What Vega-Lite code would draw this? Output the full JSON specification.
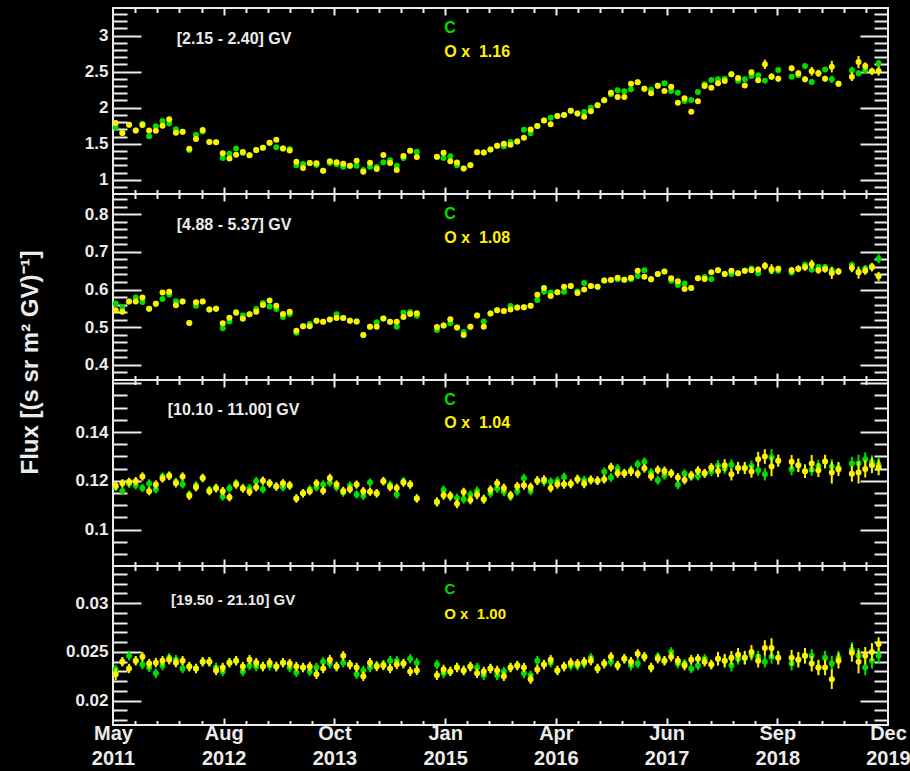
{
  "$schema": "https://vega.github.io/schema/vega-lite/v6.json",
  "background": "#000000",
  "padding": {"left": 17, "top": 6, "right": 22, "bottom": 4},
  "spacing": 0,
  "bounds": "flush",
  "config": {
    "view": {"stroke": "#ececec", "strokeWidth": 2},
    "axis": {"grid": false, "domain": false, "labelColor": "#ececec", "tickColor": "#ececec", "tickWidth": 2, "labelFont": "Liberation Sans", "labelFontWeight": "bold", "labelFontSize": 17, "titleColor": "#ececec", "titleFont": "Liberation Sans", "titleFontWeight": "bold", "labelOverlap": false, "labelFlush": false},
    "text": {"font": "Liberation Sans", "fontWeight": "bold"}
  },
  "datasets": {
    "flux": [
      {"p":1,"b":2426,"c":1.722,"o":1.787,"ce":0.015,"oe":0.015},
      {"p":1,"b":2427,"c":1.65,"o":1.648,"ce":0.015,"oe":0.015},
      {"p":1,"b":2428,"c":1.764,"o":1.764,"ce":0.015,"oe":0.015},
      {"p":1,"b":2429,"c":1.685,"o":1.685,"ce":0.015,"oe":0.015},
      {"p":1,"b":2430,"c":1.778,"o":1.759,"ce":0.015,"oe":0.015},
      {"p":1,"b":2431,"c":1.602,"o":1.685,"ce":0.015,"oe":0.015},
      {"p":1,"b":2432,"c":1.741,"o":1.681,"ce":0.015,"oe":0.015},
      {"p":1,"b":2433,"c":1.815,"o":1.75,"ce":0.015,"oe":0.015},
      {"p":1,"b":2434,"c":1.782,"o":1.838,"ce":0.015,"oe":0.015},
      {"p":1,"b":2435,"c":1.699,"o":1.653,"ce":0.015,"oe":0.015},
      {"p":1,"b":2436,"c":1.667,"o":1.667,"ce":0.015,"oe":0.015},
      {"p":1,"b":2437,"c":1.412,"o":1.431,"ce":0.015,"oe":0.015},
      {"p":1,"b":2438,"c":1.62,"o":1.565,"ce":0.015,"oe":0.015},
      {"p":1,"b":2439,"c":1.671,"o":1.69,"ce":0.015,"oe":0.015},
      {"p":1,"b":2440,"c":1.523,"o":1.523,"ce":0.015,"oe":0.015},
      {"p":1,"b":2441,"c":1.519,"o":1.519,"ce":0.015,"oe":0.015},
      {"p":1,"b":2442,"c":1.301,"o":1.366,"ce":0.015,"oe":0.015},
      {"p":1,"b":2443,"c":1.361,"o":1.296,"ce":0.015,"oe":0.015},
      {"p":1,"b":2444,"c":1.435,"o":1.347,"ce":0.015,"oe":0.015},
      {"p":1,"b":2445,"c":1.37,"o":1.384,"ce":0.015,"oe":0.015},
      {"p":1,"b":2446,"c":1.338,"o":1.338,"ce":0.015,"oe":0.015},
      {"p":1,"b":2447,"c":1.412,"o":1.412,"ce":0.015,"oe":0.015},
      {"p":1,"b":2448,"c":1.444,"o":1.444,"ce":0.015,"oe":0.015},
      {"p":1,"b":2449,"c":1.514,"o":1.514,"ce":0.015,"oe":0.015},
      {"p":1,"b":2450,"c":1.449,"o":1.556,"ce":0.015,"oe":0.015},
      {"p":1,"b":2451,"c":1.435,"o":1.435,"ce":0.015,"oe":0.015},
      {"p":1,"b":2452,"c":1.426,"o":1.407,"ce":0.015,"oe":0.015},
      {"p":1,"b":2453,"c":1.199,"o":1.25,"ce":0.015,"oe":0.015},
      {"p":1,"b":2454,"c":1.218,"o":1.162,"ce":0.015,"oe":0.015},
      {"p":1,"b":2455,"c":1.231,"o":1.231,"ce":0.015,"oe":0.015},
      {"p":1,"b":2456,"c":1.204,"o":1.227,"ce":0.015,"oe":0.015},
      {"p":1,"b":2457,"c":1.125,"o":1.125,"ce":0.015,"oe":0.015},
      {"p":1,"b":2458,"c":1.231,"o":1.255,"ce":0.015,"oe":0.015},
      {"p":1,"b":2459,"c":1.213,"o":1.241,"ce":0.015,"oe":0.015},
      {"p":1,"b":2460,"c":1.18,"o":1.222,"ce":0.015,"oe":0.015},
      {"p":1,"b":2461,"c":1.194,"o":1.194,"ce":0.015,"oe":0.015},
      {"p":1,"b":2462,"c":1.194,"o":1.264,"ce":0.015,"oe":0.015},
      {"p":1,"b":2463,"c":1.134,"o":1.111,"ce":0.015,"oe":0.015},
      {"p":1,"b":2464,"c":1.18,"o":1.236,"ce":0.015,"oe":0.015},
      {"p":1,"b":2465,"c":1.176,"o":1.148,"ce":0.015,"oe":0.015},
      {"p":1,"b":2466,"c":1.241,"o":1.343,"ce":0.015,"oe":0.015},
      {"p":1,"b":2467,"c":1.269,"o":1.231,"ce":0.015,"oe":0.015},
      {"p":1,"b":2468,"c":1.194,"o":1.134,"ce":0.015,"oe":0.015},
      {"p":1,"b":2469,"c":1.301,"o":1.329,"ce":0.015,"oe":0.015},
      {"p":1,"b":2470,"c":1.403,"o":1.403,"ce":0.015,"oe":0.015},
      {"p":1,"b":2471,"c":1.389,"o":1.315,"ce":0.015,"oe":0.015},
      {"p":1,"b":2474,"c":1.315,"o":1.319,"ce":0.015,"oe":0.015},
      {"p":1,"b":2475,"c":1.303,"o":1.375,"ce":0.015,"oe":0.015},
      {"p":1,"b":2476,"c":1.327,"o":1.255,"ce":0.015,"oe":0.015},
      {"p":1,"b":2477,"c":1.2,"o":1.24,"ce":0.015,"oe":0.015},
      {"p":1,"b":2478,"c":1.157,"o":1.157,"ce":0.015,"oe":0.015},
      {"p":1,"b":2479,"c":1.204,"o":1.2,"ce":0.015,"oe":0.015},
      {"p":1,"b":2480,"c":1.38,"o":1.38,"ce":0.015,"oe":0.015},
      {"p":1,"b":2481,"c":1.378,"o":1.378,"ce":0.015,"oe":0.015},
      {"p":1,"b":2482,"c":1.419,"o":1.419,"ce":0.015,"oe":0.015},
      {"p":1,"b":2483,"c":1.47,"o":1.47,"ce":0.015,"oe":0.015},
      {"p":1,"b":2484,"c":1.465,"o":1.498,"ce":0.015,"oe":0.015},
      {"p":1,"b":2485,"c":1.523,"o":1.486,"ce":0.015,"oe":0.015},
      {"p":1,"b":2486,"c":1.532,"o":1.532,"ce":0.015,"oe":0.015},
      {"p":1,"b":2487,"c":1.695,"o":1.584,"ce":0.015,"oe":0.015},
      {"p":1,"b":2488,"c":1.644,"o":1.697,"ce":0.015,"oe":0.015},
      {"p":1,"b":2489,"c":1.746,"o":1.746,"ce":0.015,"oe":0.015},
      {"p":1,"b":2490,"c":1.822,"o":1.822,"ce":0.015,"oe":0.015},
      {"p":1,"b":2491,"c":1.861,"o":1.77,"ce":0.015,"oe":0.015},
      {"p":1,"b":2492,"c":1.884,"o":1.884,"ce":0.015,"oe":0.015},
      {"p":1,"b":2493,"c":1.898,"o":1.898,"ce":0.015,"oe":0.015},
      {"p":1,"b":2494,"c":1.956,"o":1.956,"ce":0.015,"oe":0.015},
      {"p":1,"b":2495,"c":1.921,"o":1.921,"ce":0.015,"oe":0.015},
      {"p":1,"b":2496,"c":1.94,"o":1.875,"ce":0.015,"oe":0.015},
      {"p":1,"b":2497,"c":2.0,"o":1.949,"ce":0.015,"oe":0.015},
      {"p":1,"b":2498,"c":2.033,"o":2.033,"ce":0.015,"oe":0.015},
      {"p":1,"b":2499,"c":2.102,"o":2.102,"ce":0.015,"oe":0.015},
      {"p":1,"b":2500,"c":2.186,"o":2.209,"ce":0.015,"oe":0.015},
      {"p":1,"b":2501,"c":2.241,"o":2.148,"ce":0.015,"oe":0.015},
      {"p":1,"b":2502,"c":2.227,"o":2.148,"ce":0.015,"oe":0.015},
      {"p":1,"b":2503,"c":2.255,"o":2.334,"ce":0.015,"oe":0.015},
      {"p":1,"b":2504,"c":2.352,"o":2.352,"ce":0.015,"oe":0.015},
      {"p":1,"b":2505,"c":2.264,"o":2.264,"ce":0.015,"oe":0.015},
      {"p":1,"b":2506,"c":2.25,"o":2.2,"ce":0.015,"oe":0.015},
      {"p":1,"b":2507,"c":2.306,"o":2.306,"ce":0.015,"oe":0.015},
      {"p":1,"b":2508,"c":2.338,"o":2.232,"ce":0.015,"oe":0.015},
      {"p":1,"b":2509,"c":2.232,"o":2.292,"ce":0.015,"oe":0.015},
      {"p":1,"b":2510,"c":2.209,"o":2.07,"ce":0.015,"oe":0.015},
      {"p":1,"b":2511,"c":2.093,"o":2.13,"ce":0.015,"oe":0.015},
      {"p":1,"b":2512,"c":2.107,"o":1.945,"ce":0.015,"oe":0.015},
      {"p":1,"b":2513,"c":2.218,"o":2.088,"ce":0.015,"oe":0.015},
      {"p":1,"b":2514,"c":2.325,"o":2.301,"ce":0.015,"oe":0.015},
      {"p":1,"b":2515,"c":2.385,"o":2.278,"ce":0.015,"oe":0.015},
      {"p":1,"b":2516,"c":2.394,"o":2.338,"ce":0.025,"oe":0.03},
      {"p":1,"b":2517,"c":2.403,"o":2.371,"ce":0.025,"oe":0.03},
      {"p":1,"b":2518,"c":2.464,"o":2.464,"ce":0.025,"oe":0.03},
      {"p":1,"b":2519,"c":2.375,"o":2.412,"ce":0.025,"oe":0.03},
      {"p":1,"b":2520,"c":2.394,"o":2.31,"ce":0.025,"oe":0.03},
      {"p":1,"b":2521,"c":2.44,"o":2.491,"ce":0.025,"oe":0.03},
      {"p":1,"b":2522,"c":2.45,"o":2.38,"ce":0.025,"oe":0.03},
      {"p":1,"b":2523,"c":2.375,"o":2.602,"ce":0.025,"oe":0.065},
      {"p":1,"b":2524,"c":2.436,"o":2.431,"ce":0.025,"oe":0.04},
      {"p":1,"b":2525,"c":2.523,"o":2.403,"ce":0.025,"oe":0.04},
      {"p":1,"b":2527,"c":2.431,"o":2.547,"ce":0.03,"oe":0.04},
      {"p":1,"b":2528,"c":2.45,"o":2.477,"ce":0.03,"oe":0.04},
      {"p":1,"b":2529,"c":2.579,"o":2.394,"ce":0.03,"oe":0.04},
      {"p":1,"b":2530,"c":2.357,"o":2.505,"ce":0.04,"oe":0.06},
      {"p":1,"b":2531,"c":2.477,"o":2.477,"ce":0.03,"oe":0.05},
      {"p":1,"b":2532,"c":2.532,"o":2.403,"ce":0.03,"oe":0.04},
      {"p":1,"b":2533,"c":2.394,"o":2.57,"ce":0.05,"oe":0.08},
      {"p":1,"b":2534,"c":2.333,"o":2.333,"ce":0.03,"oe":0.04},
      {"p":1,"b":2536,"c":2.519,"o":2.431,"ce":0.05,"oe":0.06},
      {"p":1,"b":2537,"c":2.477,"o":2.634,"ce":0.04,"oe":0.085},
      {"p":1,"b":2538,"c":2.523,"o":2.579,"ce":0.04,"oe":0.05},
      {"p":1,"b":2539,"c":2.505,"o":2.505,"ce":0.04,"oe":0.05},
      {"p":1,"b":2540,"c":2.616,"o":2.51,"ce":0.05,"oe":0.065},

      {"p":2,"b":2426,"c":0.563,"o":0.545,"ce":0.004,"oe":0.004},
      {"p":2,"b":2427,"c":0.552,"o":0.541,"ce":0.004,"oe":0.004},
      {"p":2,"b":2428,"c":0.568,"o":0.568,"ce":0.004,"oe":0.004},
      {"p":2,"b":2429,"c":0.579,"o":0.568,"ce":0.004,"oe":0.004},
      {"p":2,"b":2430,"c":0.567,"o":0.579,"ce":0.004,"oe":0.004},
      {"p":2,"b":2431,"c":0.549,"o":0.549,"ce":0.004,"oe":0.004},
      {"p":2,"b":2432,"c":0.562,"o":0.562,"ce":0.004,"oe":0.004},
      {"p":2,"b":2433,"c":0.575,"o":0.592,"ce":0.004,"oe":0.004},
      {"p":2,"b":2434,"c":0.587,"o":0.594,"ce":0.004,"oe":0.004},
      {"p":2,"b":2435,"c":0.569,"o":0.558,"ce":0.004,"oe":0.004},
      {"p":2,"b":2436,"c":0.568,"o":0.568,"ce":0.004,"oe":0.004},
      {"p":2,"b":2437,"c":0.511,"o":0.511,"ce":0.004,"oe":0.004},
      {"p":2,"b":2438,"c":0.557,"o":0.566,"ce":0.004,"oe":0.004},
      {"p":2,"b":2439,"c":0.568,"o":0.568,"ce":0.004,"oe":0.004},
      {"p":2,"b":2440,"c":0.547,"o":0.547,"ce":0.004,"oe":0.004},
      {"p":2,"b":2441,"c":0.549,"o":0.549,"ce":0.004,"oe":0.004},
      {"p":2,"b":2442,"c":0.497,"o":0.51,"ce":0.004,"oe":0.004},
      {"p":2,"b":2443,"c":0.515,"o":0.525,"ce":0.004,"oe":0.004},
      {"p":2,"b":2444,"c":0.54,"o":0.538,"ce":0.004,"oe":0.004},
      {"p":2,"b":2445,"c":0.531,"o":0.522,"ce":0.004,"oe":0.004},
      {"p":2,"b":2446,"c":0.534,"o":0.534,"ce":0.004,"oe":0.004},
      {"p":2,"b":2447,"c":0.548,"o":0.541,"ce":0.004,"oe":0.004},
      {"p":2,"b":2448,"c":0.564,"o":0.559,"ce":0.004,"oe":0.004},
      {"p":2,"b":2449,"c":0.555,"o":0.571,"ce":0.004,"oe":0.004},
      {"p":2,"b":2450,"c":0.548,"o":0.557,"ce":0.004,"oe":0.004},
      {"p":2,"b":2451,"c":0.527,"o":0.535,"ce":0.004,"oe":0.004},
      {"p":2,"b":2452,"c":0.535,"o":0.541,"ce":0.004,"oe":0.004},
      {"p":2,"b":2453,"c":0.485,"o":0.49,"ce":0.004,"oe":0.004},
      {"p":2,"b":2454,"c":0.502,"o":0.502,"ce":0.004,"oe":0.004},
      {"p":2,"b":2455,"c":0.508,"o":0.502,"ce":0.004,"oe":0.004},
      {"p":2,"b":2456,"c":0.517,"o":0.517,"ce":0.004,"oe":0.004},
      {"p":2,"b":2457,"c":0.514,"o":0.514,"ce":0.004,"oe":0.004},
      {"p":2,"b":2458,"c":0.52,"o":0.52,"ce":0.004,"oe":0.004},
      {"p":2,"b":2459,"c":0.534,"o":0.524,"ce":0.004,"oe":0.004},
      {"p":2,"b":2460,"c":0.524,"o":0.524,"ce":0.004,"oe":0.004},
      {"p":2,"b":2461,"c":0.517,"o":0.517,"ce":0.004,"oe":0.004},
      {"p":2,"b":2462,"c":0.515,"o":0.515,"ce":0.004,"oe":0.004},
      {"p":2,"b":2463,"c":0.479,"o":0.479,"ce":0.004,"oe":0.004},
      {"p":2,"b":2464,"c":0.501,"o":0.501,"ce":0.004,"oe":0.004},
      {"p":2,"b":2465,"c":0.513,"o":0.501,"ce":0.004,"oe":0.004},
      {"p":2,"b":2466,"c":0.523,"o":0.523,"ce":0.004,"oe":0.004},
      {"p":2,"b":2467,"c":0.514,"o":0.514,"ce":0.004,"oe":0.004},
      {"p":2,"b":2468,"c":0.501,"o":0.514,"ce":0.004,"oe":0.004},
      {"p":2,"b":2469,"c":0.538,"o":0.527,"ce":0.004,"oe":0.004},
      {"p":2,"b":2470,"c":0.54,"o":0.535,"ce":0.004,"oe":0.004},
      {"p":2,"b":2471,"c":0.53,"o":0.537,"ce":0.004,"oe":0.004},
      {"p":2,"b":2474,"c":0.492,"o":0.5,"ce":0.004,"oe":0.004},
      {"p":2,"b":2475,"c":0.504,"o":0.504,"ce":0.004,"oe":0.004},
      {"p":2,"b":2476,"c":0.51,"o":0.521,"ce":0.004,"oe":0.004},
      {"p":2,"b":2477,"c":0.499,"o":0.499,"ce":0.004,"oe":0.004},
      {"p":2,"b":2478,"c":0.487,"o":0.479,"ce":0.004,"oe":0.004},
      {"p":2,"b":2479,"c":0.501,"o":0.501,"ce":0.004,"oe":0.004},
      {"p":2,"b":2480,"c":0.531,"o":0.531,"ce":0.004,"oe":0.004},
      {"p":2,"b":2481,"c":0.515,"o":0.501,"ce":0.004,"oe":0.004},
      {"p":2,"b":2482,"c":0.536,"o":0.536,"ce":0.004,"oe":0.004},
      {"p":2,"b":2483,"c":0.545,"o":0.545,"ce":0.004,"oe":0.004},
      {"p":2,"b":2484,"c":0.543,"o":0.543,"ce":0.004,"oe":0.004},
      {"p":2,"b":2485,"c":0.556,"o":0.547,"ce":0.004,"oe":0.004},
      {"p":2,"b":2486,"c":0.552,"o":0.552,"ce":0.004,"oe":0.004},
      {"p":2,"b":2487,"c":0.553,"o":0.553,"ce":0.004,"oe":0.004},
      {"p":2,"b":2488,"c":0.557,"o":0.557,"ce":0.004,"oe":0.004},
      {"p":2,"b":2489,"c":0.572,"o":0.586,"ce":0.004,"oe":0.004},
      {"p":2,"b":2490,"c":0.594,"o":0.604,"ce":0.004,"oe":0.004},
      {"p":2,"b":2491,"c":0.592,"o":0.583,"ce":0.004,"oe":0.004},
      {"p":2,"b":2492,"c":0.593,"o":0.593,"ce":0.004,"oe":0.004},
      {"p":2,"b":2493,"c":0.594,"o":0.607,"ce":0.004,"oe":0.004},
      {"p":2,"b":2494,"c":0.609,"o":0.609,"ce":0.004,"oe":0.004},
      {"p":2,"b":2495,"c":0.595,"o":0.591,"ce":0.004,"oe":0.004},
      {"p":2,"b":2496,"c":0.617,"o":0.6,"ce":0.004,"oe":0.004},
      {"p":2,"b":2497,"c":0.609,"o":0.609,"ce":0.004,"oe":0.004},
      {"p":2,"b":2498,"c":0.607,"o":0.607,"ce":0.004,"oe":0.004},
      {"p":2,"b":2499,"c":0.624,"o":0.624,"ce":0.004,"oe":0.004},
      {"p":2,"b":2500,"c":0.625,"o":0.625,"ce":0.004,"oe":0.004},
      {"p":2,"b":2501,"c":0.627,"o":0.631,"ce":0.004,"oe":0.004},
      {"p":2,"b":2502,"c":0.626,"o":0.626,"ce":0.004,"oe":0.004},
      {"p":2,"b":2503,"c":0.627,"o":0.631,"ce":0.004,"oe":0.004},
      {"p":2,"b":2504,"c":0.636,"o":0.65,"ce":0.004,"oe":0.004},
      {"p":2,"b":2505,"c":0.651,"o":0.634,"ce":0.004,"oe":0.004},
      {"p":2,"b":2506,"c":0.627,"o":0.627,"ce":0.004,"oe":0.004},
      {"p":2,"b":2507,"c":0.641,"o":0.641,"ce":0.004,"oe":0.004},
      {"p":2,"b":2508,"c":0.648,"o":0.648,"ce":0.004,"oe":0.004},
      {"p":2,"b":2509,"c":0.623,"o":0.63,"ce":0.004,"oe":0.004},
      {"p":2,"b":2510,"c":0.612,"o":0.622,"ce":0.004,"oe":0.004},
      {"p":2,"b":2511,"c":0.616,"o":0.601,"ce":0.004,"oe":0.004},
      {"p":2,"b":2512,"c":0.604,"o":0.604,"ce":0.004,"oe":0.004},
      {"p":2,"b":2513,"c":0.63,"o":0.63,"ce":0.004,"oe":0.004},
      {"p":2,"b":2514,"c":0.633,"o":0.628,"ce":0.004,"oe":0.004},
      {"p":2,"b":2515,"c":0.628,"o":0.646,"ce":0.004,"oe":0.004},
      {"p":2,"b":2516,"c":0.651,"o":0.651,"ce":0.006,"oe":0.007},
      {"p":2,"b":2517,"c":0.641,"o":0.641,"ce":0.006,"oe":0.007},
      {"p":2,"b":2518,"c":0.641,"o":0.65,"ce":0.006,"oe":0.007},
      {"p":2,"b":2519,"c":0.643,"o":0.643,"ce":0.006,"oe":0.007},
      {"p":2,"b":2520,"c":0.65,"o":0.65,"ce":0.006,"oe":0.007},
      {"p":2,"b":2521,"c":0.656,"o":0.651,"ce":0.006,"oe":0.007},
      {"p":2,"b":2522,"c":0.643,"o":0.653,"ce":0.006,"oe":0.007},
      {"p":2,"b":2523,"c":0.663,"o":0.663,"ce":0.006,"oe":0.01},
      {"p":2,"b":2524,"c":0.65,"o":0.654,"ce":0.006,"oe":0.013},
      {"p":2,"b":2525,"c":0.65,"o":0.655,"ce":0.006,"oe":0.008},
      {"p":2,"b":2527,"c":0.645,"o":0.651,"ce":0.007,"oe":0.009},
      {"p":2,"b":2528,"c":0.655,"o":0.655,"ce":0.007,"oe":0.009},
      {"p":2,"b":2529,"c":0.666,"o":0.659,"ce":0.007,"oe":0.009},
      {"p":2,"b":2530,"c":0.653,"o":0.667,"ce":0.008,"oe":0.012},
      {"p":2,"b":2531,"c":0.66,"o":0.651,"ce":0.007,"oe":0.009},
      {"p":2,"b":2532,"c":0.66,"o":0.654,"ce":0.007,"oe":0.009},
      {"p":2,"b":2533,"c":0.651,"o":0.644,"ce":0.009,"oe":0.016},
      {"p":2,"b":2534,"c":0.648,"o":0.648,"ce":0.007,"oe":0.009},
      {"p":2,"b":2536,"c":0.665,"o":0.657,"ce":0.009,"oe":0.011},
      {"p":2,"b":2537,"c":0.648,"o":0.645,"ce":0.009,"oe":0.016},
      {"p":2,"b":2538,"c":0.656,"o":0.65,"ce":0.009,"oe":0.011},
      {"p":2,"b":2539,"c":0.662,"o":0.659,"ce":0.009,"oe":0.011},
      {"p":2,"b":2540,"c":0.682,"o":0.635,"ce":0.012,"oe":0.012},

      {"p":3,"b":2426,"c":0.1175,"o":0.118,"ce":0.0017,"oe":0.0017},
      {"p":3,"b":2427,"c":0.1159,"o":0.119,"ce":0.0017,"oe":0.0017},
      {"p":3,"b":2428,"c":0.1188,"o":0.1196,"ce":0.0017,"oe":0.0017},
      {"p":3,"b":2429,"c":0.1182,"o":0.1199,"ce":0.0017,"oe":0.0017},
      {"p":3,"b":2430,"c":0.1171,"o":0.1218,"ce":0.0017,"oe":0.0017},
      {"p":3,"b":2431,"c":0.1189,"o":0.1158,"ce":0.0017,"oe":0.0017},
      {"p":3,"b":2432,"c":0.1166,"o":0.1185,"ce":0.0017,"oe":0.0017},
      {"p":3,"b":2433,"c":0.1218,"o":0.121,"ce":0.0017,"oe":0.0017},
      {"p":3,"b":2434,"c":0.1223,"o":0.122,"ce":0.0017,"oe":0.0017},
      {"p":3,"b":2435,"c":0.1196,"o":0.119,"ce":0.0017,"oe":0.0017},
      {"p":3,"b":2436,"c":0.1186,"o":0.1218,"ce":0.0017,"oe":0.0017},
      {"p":3,"b":2437,"c":0.1144,"o":0.1139,"ce":0.0017,"oe":0.0017},
      {"p":3,"b":2438,"c":0.1182,"o":0.1174,"ce":0.0017,"oe":0.0017},
      {"p":3,"b":2439,"c":0.1212,"o":0.1212,"ce":0.0017,"oe":0.0017},
      {"p":3,"b":2440,"c":0.1163,"o":0.1158,"ce":0.0017,"oe":0.0017},
      {"p":3,"b":2441,"c":0.1169,"o":0.1171,"ce":0.0017,"oe":0.0017},
      {"p":3,"b":2442,"c":0.1136,"o":0.1158,"ce":0.0017,"oe":0.0017},
      {"p":3,"b":2443,"c":0.117,"o":0.1133,"ce":0.0017,"oe":0.0017},
      {"p":3,"b":2444,"c":0.119,"o":0.1185,"ce":0.0017,"oe":0.0017},
      {"p":3,"b":2445,"c":0.1171,"o":0.1169,"ce":0.0017,"oe":0.0017},
      {"p":3,"b":2446,"c":0.117,"o":0.1155,"ce":0.0017,"oe":0.0017},
      {"p":3,"b":2447,"c":0.1199,"o":0.1174,"ce":0.0017,"oe":0.0017},
      {"p":3,"b":2448,"c":0.1166,"o":0.1201,"ce":0.0017,"oe":0.0017},
      {"p":3,"b":2449,"c":0.119,"o":0.119,"ce":0.0017,"oe":0.0017},
      {"p":3,"b":2450,"c":0.1177,"o":0.1177,"ce":0.0017,"oe":0.0017},
      {"p":3,"b":2451,"c":0.1174,"o":0.119,"ce":0.0017,"oe":0.0017},
      {"p":3,"b":2452,"c":0.118,"o":0.1182,"ce":0.0017,"oe":0.0017},
      {"p":3,"b":2453,"c":0.1128,"o":0.1128,"ce":0.0017,"oe":0.0017},
      {"p":3,"b":2454,"c":0.1149,"o":0.1149,"ce":0.0017,"oe":0.0017},
      {"p":3,"b":2455,"c":0.1166,"o":0.1158,"ce":0.0017,"oe":0.0017},
      {"p":3,"b":2456,"c":0.1174,"o":0.119,"ce":0.0017,"oe":0.0017},
      {"p":3,"b":2457,"c":0.1185,"o":0.116,"ce":0.0017,"oe":0.0017},
      {"p":3,"b":2458,"c":0.1193,"o":0.1212,"ce":0.0017,"oe":0.0017},
      {"p":3,"b":2459,"c":0.1174,"o":0.1185,"ce":0.0017,"oe":0.0017},
      {"p":3,"b":2460,"c":0.1152,"o":0.1159,"ce":0.0017,"oe":0.0017},
      {"p":3,"b":2461,"c":0.118,"o":0.1166,"ce":0.0017,"oe":0.0017},
      {"p":3,"b":2462,"c":0.1144,"o":0.1185,"ce":0.0017,"oe":0.0017},
      {"p":3,"b":2463,"c":0.1139,"o":0.1158,"ce":0.0017,"oe":0.0017},
      {"p":3,"b":2464,"c":0.1193,"o":0.1156,"ce":0.0017,"oe":0.0017},
      {"p":3,"b":2465,"c":0.1149,"o":0.1149,"ce":0.0017,"oe":0.0017},
      {"p":3,"b":2466,"c":0.1199,"o":0.1199,"ce":0.0017,"oe":0.0017},
      {"p":3,"b":2467,"c":0.1184,"o":0.1175,"ce":0.0017,"oe":0.0017},
      {"p":3,"b":2468,"c":0.1144,"o":0.1171,"ce":0.0017,"oe":0.0017},
      {"p":3,"b":2469,"c":0.1199,"o":0.1193,"ce":0.0017,"oe":0.0017},
      {"p":3,"b":2470,"c":0.1185,"o":0.1185,"ce":0.0017,"oe":0.0017},
      {"p":3,"b":2471,"c":0.1128,"o":0.1128,"ce":0.0017,"oe":0.0017},
      {"p":3,"b":2474,"c":0.1111,"o":0.1115,"ce":0.0018,"oe":0.0018},
      {"p":3,"b":2475,"c":0.1163,"o":0.1141,"ce":0.0018,"oe":0.0018},
      {"p":3,"b":2476,"c":0.1136,"o":0.1139,"ce":0.0018,"oe":0.0018},
      {"p":3,"b":2477,"c":0.113,"o":0.1106,"ce":0.0018,"oe":0.0018},
      {"p":3,"b":2478,"c":0.1125,"o":0.1154,"ce":0.0018,"oe":0.0018},
      {"p":3,"b":2479,"c":0.1143,"o":0.1122,"ce":0.0018,"oe":0.0018},
      {"p":3,"b":2480,"c":0.1159,"o":0.1143,"ce":0.0018,"oe":0.0018},
      {"p":3,"b":2481,"c":0.1125,"o":0.1125,"ce":0.0018,"oe":0.0018},
      {"p":3,"b":2482,"c":0.1149,"o":0.1164,"ce":0.0018,"oe":0.0018},
      {"p":3,"b":2483,"c":0.1169,"o":0.119,"ce":0.0018,"oe":0.0018},
      {"p":3,"b":2484,"c":0.1155,"o":0.1171,"ce":0.0018,"oe":0.0018},
      {"p":3,"b":2485,"c":0.1136,"o":0.1141,"ce":0.0018,"oe":0.0018},
      {"p":3,"b":2486,"c":0.1158,"o":0.1178,"ce":0.0018,"oe":0.0018},
      {"p":3,"b":2487,"c":0.1211,"o":0.1182,"ce":0.0018,"oe":0.0018},
      {"p":3,"b":2488,"c":0.1159,"o":0.1175,"ce":0.0018,"oe":0.0018},
      {"p":3,"b":2489,"c":0.1201,"o":0.1201,"ce":0.0018,"oe":0.0018},
      {"p":3,"b":2490,"c":0.1196,"o":0.1205,"ce":0.0018,"oe":0.0018},
      {"p":3,"b":2491,"c":0.1196,"o":0.1171,"ce":0.0018,"oe":0.0018},
      {"p":3,"b":2492,"c":0.12,"o":0.1186,"ce":0.0018,"oe":0.0018},
      {"p":3,"b":2493,"c":0.1216,"o":0.1186,"ce":0.0018,"oe":0.0018},
      {"p":3,"b":2494,"c":0.1188,"o":0.1188,"ce":0.0018,"oe":0.0018},
      {"p":3,"b":2495,"c":0.1207,"o":0.1207,"ce":0.0018,"oe":0.0018},
      {"p":3,"b":2496,"c":0.1203,"o":0.1188,"ce":0.0018,"oe":0.0018},
      {"p":3,"b":2497,"c":0.1204,"o":0.1204,"ce":0.0018,"oe":0.0018},
      {"p":3,"b":2498,"c":0.1201,"o":0.1201,"ce":0.0018,"oe":0.0018},
      {"p":3,"b":2499,"c":0.1237,"o":0.1207,"ce":0.0018,"oe":0.0018},
      {"p":3,"b":2500,"c":0.1214,"o":0.1256,"ce":0.0018,"oe":0.0018},
      {"p":3,"b":2501,"c":0.1251,"o":0.1231,"ce":0.0018,"oe":0.0018},
      {"p":3,"b":2502,"c":0.1231,"o":0.1231,"ce":0.0018,"oe":0.0018},
      {"p":3,"b":2503,"c":0.1245,"o":0.1238,"ce":0.0018,"oe":0.0018},
      {"p":3,"b":2504,"c":0.1268,"o":0.1229,"ce":0.0018,"oe":0.0018},
      {"p":3,"b":2505,"c":0.1278,"o":0.1252,"ce":0.0018,"oe":0.0018},
      {"p":3,"b":2506,"c":0.1234,"o":0.1219,"ce":0.0018,"oe":0.0018},
      {"p":3,"b":2507,"c":0.1203,"o":0.1245,"ce":0.0018,"oe":0.0018},
      {"p":3,"b":2508,"c":0.1223,"o":0.1241,"ce":0.0018,"oe":0.0018},
      {"p":3,"b":2509,"c":0.1231,"o":0.1231,"ce":0.0018,"oe":0.0018},
      {"p":3,"b":2510,"c":0.1184,"o":0.1214,"ce":0.0018,"oe":0.0018},
      {"p":3,"b":2511,"c":0.123,"o":0.1204,"ce":0.0018,"oe":0.0018},
      {"p":3,"b":2512,"c":0.1218,"o":0.1223,"ce":0.0018,"oe":0.0018},
      {"p":3,"b":2513,"c":0.122,"o":0.1242,"ce":0.0018,"oe":0.0018},
      {"p":3,"b":2514,"c":0.1231,"o":0.1231,"ce":0.0018,"oe":0.0018},
      {"p":3,"b":2515,"c":0.1238,"o":0.1255,"ce":0.0018,"oe":0.0018},
      {"p":3,"b":2516,"c":0.1263,"o":0.1241,"ce":0.0022,"oe":0.0025},
      {"p":3,"b":2517,"c":0.1251,"o":0.1264,"ce":0.0022,"oe":0.0025},
      {"p":3,"b":2518,"c":0.1266,"o":0.1227,"ce":0.0022,"oe":0.0025},
      {"p":3,"b":2519,"c":0.1253,"o":0.1253,"ce":0.0022,"oe":0.0025},
      {"p":3,"b":2520,"c":0.1253,"o":0.1253,"ce":0.0022,"oe":0.0025},
      {"p":3,"b":2521,"c":0.1261,"o":0.1238,"ce":0.0022,"oe":0.0025},
      {"p":3,"b":2522,"c":0.1244,"o":0.1289,"ce":0.0022,"oe":0.003},
      {"p":3,"b":2523,"c":0.1227,"o":0.13,"ce":0.0025,"oe":0.003},
      {"p":3,"b":2524,"c":0.1297,"o":0.1259,"ce":0.0033,"oe":0.004},
      {"p":3,"b":2525,"c":0.1283,"o":0.1283,"ce":0.0022,"oe":0.0025},
      {"p":3,"b":2527,"c":0.1248,"o":0.1278,"ce":0.0025,"oe":0.0028},
      {"p":3,"b":2528,"c":0.1264,"o":0.1264,"ce":0.0025,"oe":0.0028},
      {"p":3,"b":2529,"c":0.124,"o":0.124,"ce":0.0025,"oe":0.0028},
      {"p":3,"b":2530,"c":0.1246,"o":0.1271,"ce":0.0025,"oe":0.0035},
      {"p":3,"b":2531,"c":0.1261,"o":0.1244,"ce":0.0025,"oe":0.0028},
      {"p":3,"b":2532,"c":0.1279,"o":0.1279,"ce":0.0025,"oe":0.0028},
      {"p":3,"b":2533,"c":0.1259,"o":0.1234,"ce":0.003,"oe":0.0045},
      {"p":3,"b":2534,"c":0.1253,"o":0.1248,"ce":0.0025,"oe":0.0028},
      {"p":3,"b":2536,"c":0.1271,"o":0.1229,"ce":0.0028,"oe":0.0032},
      {"p":3,"b":2537,"c":0.1272,"o":0.1234,"ce":0.0035,"oe":0.0045},
      {"p":3,"b":2538,"c":0.1289,"o":0.1249,"ce":0.0028,"oe":0.0035},
      {"p":3,"b":2539,"c":0.1277,"o":0.1264,"ce":0.0028,"oe":0.0032},
      {"p":3,"b":2540,"c":0.1267,"o":0.1255,"ce":0.0028,"oe":0.0032},

      {"p":4,"b":2426,"c":0.0232,"o":0.0227,"ce":0.00048,"oe":0.0006},
      {"p":4,"b":2427,"c":0.024,"o":0.024,"ce":0.00048,"oe":0.00048},
      {"p":4,"b":2428,"c":0.0246,"o":0.0233,"ce":0.00048,"oe":0.00048},
      {"p":4,"b":2429,"c":0.0241,"o":0.0241,"ce":0.00048,"oe":0.00048},
      {"p":4,"b":2430,"c":0.0237,"o":0.0245,"ce":0.00048,"oe":0.00048},
      {"p":4,"b":2431,"c":0.0234,"o":0.0238,"ce":0.00048,"oe":0.00048},
      {"p":4,"b":2432,"c":0.0228,"o":0.0239,"ce":0.00048,"oe":0.00048},
      {"p":4,"b":2433,"c":0.0236,"o":0.0241,"ce":0.00048,"oe":0.00048},
      {"p":4,"b":2434,"c":0.0244,"o":0.0242,"ce":0.00048,"oe":0.00048},
      {"p":4,"b":2435,"c":0.0242,"o":0.0239,"ce":0.00048,"oe":0.00048},
      {"p":4,"b":2436,"c":0.0233,"o":0.0241,"ce":0.00048,"oe":0.00048},
      {"p":4,"b":2437,"c":0.0235,"o":0.0235,"ce":0.00048,"oe":0.00048},
      {"p":4,"b":2438,"c":0.0233,"o":0.0233,"ce":0.00048,"oe":0.00048},
      {"p":4,"b":2439,"c":0.024,"o":0.024,"ce":0.00048,"oe":0.00048},
      {"p":4,"b":2440,"c":0.024,"o":0.024,"ce":0.00048,"oe":0.00048},
      {"p":4,"b":2441,"c":0.0234,"o":0.0231,"ce":0.00048,"oe":0.00048},
      {"p":4,"b":2442,"c":0.023,"o":0.0234,"ce":0.00048,"oe":0.00048},
      {"p":4,"b":2443,"c":0.0239,"o":0.0239,"ce":0.00048,"oe":0.00048},
      {"p":4,"b":2444,"c":0.0241,"o":0.0241,"ce":0.00048,"oe":0.00048},
      {"p":4,"b":2445,"c":0.023,"o":0.0235,"ce":0.00048,"oe":0.00048},
      {"p":4,"b":2446,"c":0.0236,"o":0.0242,"ce":0.00048,"oe":0.00048},
      {"p":4,"b":2447,"c":0.0235,"o":0.0239,"ce":0.00048,"oe":0.00048},
      {"p":4,"b":2448,"c":0.0235,"o":0.0235,"ce":0.00048,"oe":0.00048},
      {"p":4,"b":2449,"c":0.0236,"o":0.0239,"ce":0.00048,"oe":0.00048},
      {"p":4,"b":2450,"c":0.0235,"o":0.0235,"ce":0.00048,"oe":0.00048},
      {"p":4,"b":2451,"c":0.0239,"o":0.0239,"ce":0.00048,"oe":0.00048},
      {"p":4,"b":2452,"c":0.0234,"o":0.0238,"ce":0.00048,"oe":0.00048},
      {"p":4,"b":2453,"c":0.0229,"o":0.0235,"ce":0.00048,"oe":0.00048},
      {"p":4,"b":2454,"c":0.0234,"o":0.0234,"ce":0.00048,"oe":0.00048},
      {"p":4,"b":2455,"c":0.023,"o":0.0235,"ce":0.00048,"oe":0.00048},
      {"p":4,"b":2456,"c":0.0234,"o":0.0227,"ce":0.00048,"oe":0.00048},
      {"p":4,"b":2457,"c":0.024,"o":0.0233,"ce":0.00048,"oe":0.00048},
      {"p":4,"b":2458,"c":0.0238,"o":0.0242,"ce":0.00048,"oe":0.00048},
      {"p":4,"b":2459,"c":0.0235,"o":0.0235,"ce":0.00048,"oe":0.00048},
      {"p":4,"b":2460,"c":0.0239,"o":0.0246,"ce":0.00048,"oe":0.00048},
      {"p":4,"b":2461,"c":0.0237,"o":0.0237,"ce":0.00048,"oe":0.00048},
      {"p":4,"b":2462,"c":0.0227,"o":0.0234,"ce":0.00048,"oe":0.00048},
      {"p":4,"b":2463,"c":0.0231,"o":0.0225,"ce":0.00048,"oe":0.00048},
      {"p":4,"b":2464,"c":0.0234,"o":0.0239,"ce":0.00048,"oe":0.00048},
      {"p":4,"b":2465,"c":0.0236,"o":0.0235,"ce":0.00048,"oe":0.00048},
      {"p":4,"b":2466,"c":0.0237,"o":0.0236,"ce":0.00048,"oe":0.00048},
      {"p":4,"b":2467,"c":0.0241,"o":0.0233,"ce":0.00048,"oe":0.00048},
      {"p":4,"b":2468,"c":0.0241,"o":0.0237,"ce":0.00048,"oe":0.00048},
      {"p":4,"b":2469,"c":0.0238,"o":0.0238,"ce":0.00048,"oe":0.00048},
      {"p":4,"b":2470,"c":0.0243,"o":0.023,"ce":0.00048,"oe":0.00048},
      {"p":4,"b":2471,"c":0.0239,"o":0.0231,"ce":0.00048,"oe":0.00048},
      {"p":4,"b":2474,"c":0.0237,"o":0.0226,"ce":0.00048,"oe":0.00048},
      {"p":4,"b":2475,"c":0.0228,"o":0.0232,"ce":0.00048,"oe":0.00048},
      {"p":4,"b":2476,"c":0.023,"o":0.023,"ce":0.00048,"oe":0.00048},
      {"p":4,"b":2477,"c":0.0234,"o":0.0234,"ce":0.00048,"oe":0.00048},
      {"p":4,"b":2478,"c":0.0231,"o":0.0231,"ce":0.00048,"oe":0.00048},
      {"p":4,"b":2479,"c":0.0235,"o":0.0235,"ce":0.00048,"oe":0.00048},
      {"p":4,"b":2480,"c":0.0234,"o":0.0228,"ce":0.00048,"oe":0.00048},
      {"p":4,"b":2481,"c":0.0226,"o":0.023,"ce":0.00048,"oe":0.00048},
      {"p":4,"b":2482,"c":0.0233,"o":0.0233,"ce":0.00048,"oe":0.00048},
      {"p":4,"b":2483,"c":0.0226,"o":0.0231,"ce":0.00048,"oe":0.00048},
      {"p":4,"b":2484,"c":0.023,"o":0.0225,"ce":0.00048,"oe":0.00048},
      {"p":4,"b":2485,"c":0.0234,"o":0.0234,"ce":0.00048,"oe":0.00048},
      {"p":4,"b":2486,"c":0.0236,"o":0.0236,"ce":0.00048,"oe":0.00048},
      {"p":4,"b":2487,"c":0.0228,"o":0.0234,"ce":0.00048,"oe":0.00048},
      {"p":4,"b":2488,"c":0.0226,"o":0.0222,"ce":0.00048,"oe":0.00048},
      {"p":4,"b":2489,"c":0.0241,"o":0.0232,"ce":0.00048,"oe":0.00048},
      {"p":4,"b":2490,"c":0.0237,"o":0.0237,"ce":0.00048,"oe":0.00048},
      {"p":4,"b":2491,"c":0.0239,"o":0.0242,"ce":0.00048,"oe":0.00048},
      {"p":4,"b":2492,"c":0.0231,"o":0.0231,"ce":0.00048,"oe":0.00048},
      {"p":4,"b":2493,"c":0.0235,"o":0.0235,"ce":0.00048,"oe":0.00048},
      {"p":4,"b":2494,"c":0.0236,"o":0.0239,"ce":0.00048,"oe":0.00048},
      {"p":4,"b":2495,"c":0.0236,"o":0.0238,"ce":0.00048,"oe":0.00048},
      {"p":4,"b":2496,"c":0.0238,"o":0.024,"ce":0.00048,"oe":0.00048},
      {"p":4,"b":2497,"c":0.0244,"o":0.0241,"ce":0.00048,"oe":0.00048},
      {"p":4,"b":2498,"c":0.0233,"o":0.0233,"ce":0.00048,"oe":0.00048},
      {"p":4,"b":2499,"c":0.0238,"o":0.0238,"ce":0.00048,"oe":0.00048},
      {"p":4,"b":2500,"c":0.024,"o":0.0245,"ce":0.00048,"oe":0.00048},
      {"p":4,"b":2501,"c":0.0236,"o":0.0236,"ce":0.00048,"oe":0.00048},
      {"p":4,"b":2502,"c":0.0243,"o":0.0243,"ce":0.00048,"oe":0.00048},
      {"p":4,"b":2503,"c":0.0236,"o":0.024,"ce":0.00048,"oe":0.00048},
      {"p":4,"b":2504,"c":0.0238,"o":0.0248,"ce":0.00048,"oe":0.00048},
      {"p":4,"b":2505,"c":0.0245,"o":0.0245,"ce":0.00048,"oe":0.00048},
      {"p":4,"b":2506,"c":0.0234,"o":0.0234,"ce":0.00048,"oe":0.00048},
      {"p":4,"b":2507,"c":0.0245,"o":0.0243,"ce":0.00048,"oe":0.00048},
      {"p":4,"b":2508,"c":0.0241,"o":0.0241,"ce":0.00048,"oe":0.00048},
      {"p":4,"b":2509,"c":0.025,"o":0.0245,"ce":0.00048,"oe":0.00048},
      {"p":4,"b":2510,"c":0.0238,"o":0.0241,"ce":0.00048,"oe":0.00048},
      {"p":4,"b":2511,"c":0.0238,"o":0.0236,"ce":0.00048,"oe":0.00048},
      {"p":4,"b":2512,"c":0.0233,"o":0.0242,"ce":0.00048,"oe":0.00048},
      {"p":4,"b":2513,"c":0.0236,"o":0.0243,"ce":0.00048,"oe":0.00048},
      {"p":4,"b":2514,"c":0.0243,"o":0.024,"ce":0.00048,"oe":0.00048},
      {"p":4,"b":2515,"c":0.0237,"o":0.0237,"ce":0.00048,"oe":0.00048},
      {"p":4,"b":2516,"c":0.0243,"o":0.0243,"ce":0.0006,"oe":0.0007},
      {"p":4,"b":2517,"c":0.0241,"o":0.0241,"ce":0.0006,"oe":0.0007},
      {"p":4,"b":2518,"c":0.0236,"o":0.0244,"ce":0.0006,"oe":0.0007},
      {"p":4,"b":2519,"c":0.0243,"o":0.0247,"ce":0.0006,"oe":0.0007},
      {"p":4,"b":2520,"c":0.0244,"o":0.0244,"ce":0.0006,"oe":0.0007},
      {"p":4,"b":2521,"c":0.0247,"o":0.025,"ce":0.0006,"oe":0.0007},
      {"p":4,"b":2522,"c":0.0245,"o":0.0241,"ce":0.0006,"oe":0.0007},
      {"p":4,"b":2523,"c":0.024,"o":0.0254,"ce":0.0006,"oe":0.0008},
      {"p":4,"b":2524,"c":0.0245,"o":0.0254,"ce":0.0007,"oe":0.001},
      {"p":4,"b":2525,"c":0.0244,"o":0.0244,"ce":0.0006,"oe":0.0007},
      {"p":4,"b":2527,"c":0.0238,"o":0.0244,"ce":0.0007,"oe":0.0008},
      {"p":4,"b":2528,"c":0.0242,"o":0.0242,"ce":0.0007,"oe":0.0008},
      {"p":4,"b":2529,"c":0.0246,"o":0.0246,"ce":0.0007,"oe":0.0008},
      {"p":4,"b":2530,"c":0.0246,"o":0.0238,"ce":0.0007,"oe":0.0008},
      {"p":4,"b":2531,"c":0.0234,"o":0.0234,"ce":0.0007,"oe":0.0008},
      {"p":4,"b":2532,"c":0.0244,"o":0.0234,"ce":0.0007,"oe":0.0008},
      {"p":4,"b":2533,"c":0.0238,"o":0.0222,"ce":0.0008,"oe":0.001},
      {"p":4,"b":2534,"c":0.0244,"o":0.0241,"ce":0.0007,"oe":0.0008},
      {"p":4,"b":2536,"c":0.0252,"o":0.0249,"ce":0.0008,"oe":0.0009},
      {"p":4,"b":2537,"c":0.0246,"o":0.024,"ce":0.0008,"oe":0.0012},
      {"p":4,"b":2538,"c":0.0234,"o":0.0246,"ce":0.0008,"oe":0.0009},
      {"p":4,"b":2539,"c":0.0241,"o":0.025,"ce":0.0008,"oe":0.0009},
      {"p":4,"b":2540,"c":0.0246,"o":0.0258,"ce":0.0008,"oe":0.0007}
    ]
  },
  "vconcat": [
    {
      "width": 775, "height": 186,
      "resolve": {"axis": {"x": "independent", "y": "independent"}},
      "layer": [
        {
          "data": {"name": "flux"}, "transform": [{"filter": "datum.p == 1"}],
          "mark": {"type": "errorbar", "color": "#00dd00", "thickness": 2},
          "encoding": {
            "x": {"field": "b", "type": "quantitative", "scale": {"domain": [2425.6, 2541.4], "nice": false, "zero": false}, "axis": {"orient": "bottom", "title": null, "labels": false, "tickSize": -7, "values": [2442.143, 2458.686, 2475.229, 2491.771, 2508.314, 2524.857]}},
            "y": {"field": "c", "type": "quantitative", "scale": {"domain": [0.8014, 3.3847], "nice": false, "zero": false}, "axis": {"orient": "left", "title": null, "labels": false, "tickSize": -28, "values": [1, 1.5, 2, 2.5, 3]}},
            "yError": {"field": "ce"}
          }
        },
        {
          "data": {"name": "flux"}, "transform": [{"filter": "datum.p == 1"}],
          "mark": {"type": "circle", "color": "#00dd00", "size": 36, "opacity": 1},
          "encoding": {
            "x": {"field": "b", "type": "quantitative", "scale": {"domain": [2425.6, 2541.4], "nice": false, "zero": false}, "axis": {"orient": "bottom", "title": null, "labels": false, "tickSize": -4.5, "values": [2428.909, 2432.217, 2435.526, 2438.834, 2445.451, 2448.76, 2452.069, 2455.377, 2461.994, 2465.303, 2468.611, 2471.92, 2478.537, 2481.846, 2485.154, 2488.463, 2495.08, 2498.389, 2501.697, 2505.006, 2511.623, 2514.931, 2518.24, 2521.549, 2528.166, 2531.474, 2534.783, 2538.091]}},
            "y": {"field": "c", "type": "quantitative", "scale": {"domain": [0.8014, 3.3847], "nice": false, "zero": false}, "axis": {"orient": "left", "title": null, "labels": false, "tickSize": -14, "values": [0.9, 1.1, 1.2, 1.3, 1.4, 1.6, 1.7, 1.8, 1.9, 2.1, 2.2, 2.3, 2.4, 2.6, 2.7, 2.8, 2.9, 3.1, 3.2, 3.3]}}
          }
        },
        {
          "data": {"name": "flux"}, "transform": [{"filter": "datum.p == 1"}],
          "mark": {"type": "errorbar", "color": "#fff200", "thickness": 2},
          "encoding": {
            "x": {"field": "b", "type": "quantitative", "scale": {"domain": [2425.6, 2541.4], "nice": false, "zero": false}, "axis": {"orient": "top", "title": null, "labels": false, "tickSize": -7, "values": [2442.143, 2458.686, 2475.229, 2491.771, 2508.314, 2524.857]}},
            "y": {"field": "o", "type": "quantitative", "scale": {"domain": [0.8014, 3.3847], "nice": false, "zero": false}, "axis": {"orient": "right", "title": null, "labels": false, "tickSize": -28, "values": [1, 1.5, 2, 2.5, 3]}},
            "yError": {"field": "oe"}
          }
        },
        {
          "data": {"name": "flux"}, "transform": [{"filter": "datum.p == 1"}],
          "mark": {"type": "circle", "color": "#fff200", "size": 36, "opacity": 1},
          "encoding": {
            "x": {"field": "b", "type": "quantitative", "scale": {"domain": [2425.6, 2541.4], "nice": false, "zero": false}, "axis": {"orient": "top", "title": null, "labels": false, "tickSize": -4.5, "values": [2428.909, 2432.217, 2435.526, 2438.834, 2445.451, 2448.76, 2452.069, 2455.377, 2461.994, 2465.303, 2468.611, 2471.92, 2478.537, 2481.846, 2485.154, 2488.463, 2495.08, 2498.389, 2501.697, 2505.006, 2511.623, 2514.931, 2518.24, 2521.549, 2528.166, 2531.474, 2534.783, 2538.091]}},
            "y": {"field": "o", "type": "quantitative", "scale": {"domain": [0.8014, 3.3847], "nice": false, "zero": false}, "axis": {"orient": "right", "title": null, "labels": false, "tickSize": -14, "values": [0.9, 1.1, 1.2, 1.3, 1.4, 1.6, 1.7, 1.8, 1.9, 2.1, 2.2, 2.3, 2.4, 2.6, 2.7, 2.8, 2.9, 3.1, 3.2, 3.3]}}
          }
        },
        {
          "data": {"values": [{}]},
          "mark": {"type": "text", "align": "left", "baseline": "middle", "fontSize": 16, "color": "#ececec"},
          "encoding": {
            "x": {"datum": 2435.12, "type": "quantitative", "scale": {"domain": [2425.6, 2541.4], "nice": false, "zero": false}, "axis": null},
            "y": {"datum": 2.961, "type": "quantitative", "scale": {"domain": [0.8014, 3.3847], "nice": false, "zero": false}, "axis": {"orient": "left", "title": null, "ticks": false, "tickSize": 0, "labelPadding": 5, "format": "~g", "values": [1, 1.5, 2, 2.5, 3]}},
            "text": {"value": "[2.15 - 2.40] GV"}
          }
        },
        {
          "data": {"values": [{}]},
          "mark": {"type": "text", "align": "center", "baseline": "middle", "fontSize": 16, "color": "#00dd00"},
          "encoding": {
            "x": {"datum": 2475.95, "type": "quantitative", "axis": null},
            "y": {"datum": 3.1, "type": "quantitative", "axis": null},
            "text": {"value": "C"}
          }
        },
        {
          "data": {"values": [{}]},
          "mark": {"type": "text", "align": "left", "baseline": "middle", "fontSize": 16, "color": "#fff200"},
          "encoding": {
            "x": {"datum": 2475.1, "type": "quantitative", "axis": null},
            "y": {"datum": 2.776, "type": "quantitative", "axis": null},
            "text": {"value": "O x\u00a0 1.16"}
          }
        }
      ]
    },
    {
      "width": 775, "height": 186,
      "resolve": {"axis": {"x": "independent", "y": "independent"}},
      "layer": [
        {
          "data": {"name": "flux"}, "transform": [{"filter": "datum.p == 2"}],
          "mark": {"type": "errorbar", "color": "#00dd00", "thickness": 2},
          "encoding": {
            "x": {"field": "b", "type": "quantitative", "scale": {"domain": [2425.6, 2541.4], "nice": false, "zero": false}, "axis": {"orient": "bottom", "title": null, "labels": false, "tickSize": -7, "values": [2442.143, 2458.686, 2475.229, 2491.771, 2508.314, 2524.857]}},
            "y": {"field": "c", "type": "quantitative", "scale": {"domain": [0.3593, 0.854], "nice": false, "zero": false}, "axis": {"orient": "left", "title": null, "labels": false, "tickSize": -28, "values": [0.4, 0.5, 0.6, 0.7, 0.8]}},
            "yError": {"field": "ce"}
          }
        },
        {
          "data": {"name": "flux"}, "transform": [{"filter": "datum.p == 2"}],
          "mark": {"type": "circle", "color": "#00dd00", "size": 36, "opacity": 1},
          "encoding": {
            "x": {"field": "b", "type": "quantitative", "scale": {"domain": [2425.6, 2541.4], "nice": false, "zero": false}, "axis": {"orient": "bottom", "title": null, "labels": false, "tickSize": -4.5, "values": [2428.909, 2432.217, 2435.526, 2438.834, 2445.451, 2448.76, 2452.069, 2455.377, 2461.994, 2465.303, 2468.611, 2471.92, 2478.537, 2481.846, 2485.154, 2488.463, 2495.08, 2498.389, 2501.697, 2505.006, 2511.623, 2514.931, 2518.24, 2521.549, 2528.166, 2531.474, 2534.783, 2538.091]}},
            "y": {"field": "c", "type": "quantitative", "scale": {"domain": [0.3593, 0.854], "nice": false, "zero": false}, "axis": {"orient": "left", "title": null, "labels": false, "tickSize": -14, "values": [0.38, 0.42, 0.44, 0.46, 0.48, 0.52, 0.54, 0.56, 0.58, 0.62, 0.64, 0.66, 0.68, 0.72, 0.74, 0.76, 0.78, 0.82, 0.84]}}
          }
        },
        {
          "data": {"name": "flux"}, "transform": [{"filter": "datum.p == 2"}],
          "mark": {"type": "errorbar", "color": "#fff200", "thickness": 2},
          "encoding": {
            "x": {"field": "b", "type": "quantitative", "scale": {"domain": [2425.6, 2541.4], "nice": false, "zero": false}, "axis": {"orient": "top", "title": null, "labels": false, "tickSize": -7, "values": [2442.143, 2458.686, 2475.229, 2491.771, 2508.314, 2524.857]}},
            "y": {"field": "o", "type": "quantitative", "scale": {"domain": [0.3593, 0.854], "nice": false, "zero": false}, "axis": {"orient": "right", "title": null, "labels": false, "tickSize": -28, "values": [0.4, 0.5, 0.6, 0.7, 0.8]}},
            "yError": {"field": "oe"}
          }
        },
        {
          "data": {"name": "flux"}, "transform": [{"filter": "datum.p == 2"}],
          "mark": {"type": "circle", "color": "#fff200", "size": 36, "opacity": 1},
          "encoding": {
            "x": {"field": "b", "type": "quantitative", "scale": {"domain": [2425.6, 2541.4], "nice": false, "zero": false}, "axis": {"orient": "top", "title": null, "labels": false, "tickSize": -4.5, "values": [2428.909, 2432.217, 2435.526, 2438.834, 2445.451, 2448.76, 2452.069, 2455.377, 2461.994, 2465.303, 2468.611, 2471.92, 2478.537, 2481.846, 2485.154, 2488.463, 2495.08, 2498.389, 2501.697, 2505.006, 2511.623, 2514.931, 2518.24, 2521.549, 2528.166, 2531.474, 2534.783, 2538.091]}},
            "y": {"field": "o", "type": "quantitative", "scale": {"domain": [0.3593, 0.854], "nice": false, "zero": false}, "axis": {"orient": "right", "title": null, "labels": false, "tickSize": -14, "values": [0.38, 0.42, 0.44, 0.46, 0.48, 0.52, 0.54, 0.56, 0.58, 0.62, 0.64, 0.66, 0.68, 0.72, 0.74, 0.76, 0.78, 0.82, 0.84]}}
          }
        },
        {
          "data": {"values": [{}]},
          "mark": {"type": "text", "align": "left", "baseline": "middle", "fontSize": 16, "color": "#ececec"},
          "encoding": {
            "x": {"datum": 2435.12, "type": "quantitative", "scale": {"domain": [2425.6, 2541.4], "nice": false, "zero": false}, "axis": null},
            "y": {"datum": 0.7707, "type": "quantitative", "scale": {"domain": [0.3593, 0.854], "nice": false, "zero": false}, "axis": {"orient": "left", "title": "Flux [(s sr m² GV)⁻¹]", "titleFontSize": 24, "titleAngle": -90, "titleAlign": "center", "titleBaseline": "alphabetic", "titleX": -75.5, "titleY": 168, "ticks": false, "tickSize": 0, "labelPadding": 5, "format": "~g", "values": [0.4, 0.5, 0.6, 0.7, 0.8]}},
            "text": {"value": "[4.88 - 5.37] GV"}
          }
        },
        {
          "data": {"values": [{}]},
          "mark": {"type": "text", "align": "center", "baseline": "middle", "fontSize": 16, "color": "#00dd00"},
          "encoding": {
            "x": {"datum": 2475.95, "type": "quantitative", "axis": null},
            "y": {"datum": 0.8019, "type": "quantitative", "axis": null},
            "text": {"value": "C"}
          }
        },
        {
          "data": {"values": [{}]},
          "mark": {"type": "text", "align": "left", "baseline": "middle", "fontSize": 16, "color": "#fff200"},
          "encoding": {
            "x": {"datum": 2475.1, "type": "quantitative", "axis": null},
            "y": {"datum": 0.7383, "type": "quantitative", "axis": null},
            "text": {"value": "O x\u00a0 1.08"}
          }
        }
      ]
    },
    {
      "width": 775, "height": 186,
      "resolve": {"axis": {"x": "independent", "y": "independent"}},
      "layer": [
        {
          "data": {"name": "flux"}, "transform": [{"filter": "datum.p == 3"}],
          "mark": {"type": "errorbar", "color": "#00dd00", "thickness": 2},
          "encoding": {
            "x": {"field": "b", "type": "quantitative", "scale": {"domain": [2425.6, 2541.4], "nice": false, "zero": false}, "axis": {"orient": "bottom", "title": null, "labels": false, "tickSize": -7, "values": [2442.143, 2458.686, 2475.229, 2491.771, 2508.314, 2524.857]}},
            "y": {"field": "c", "type": "quantitative", "scale": {"domain": [0.08512, 0.16135], "nice": false, "zero": false}, "axis": {"orient": "left", "title": null, "labels": false, "tickSize": -28, "values": [0.1, 0.12, 0.14, 0.16]}},
            "yError": {"field": "ce"}
          }
        },
        {
          "data": {"name": "flux"}, "transform": [{"filter": "datum.p == 3"}],
          "mark": {"type": "circle", "color": "#00dd00", "size": 36, "opacity": 1},
          "encoding": {
            "x": {"field": "b", "type": "quantitative", "scale": {"domain": [2425.6, 2541.4], "nice": false, "zero": false}, "axis": {"orient": "bottom", "title": null, "labels": false, "tickSize": -4.5, "values": [2428.909, 2432.217, 2435.526, 2438.834, 2445.451, 2448.76, 2452.069, 2455.377, 2461.994, 2465.303, 2468.611, 2471.92, 2478.537, 2481.846, 2485.154, 2488.463, 2495.08, 2498.389, 2501.697, 2505.006, 2511.623, 2514.931, 2518.24, 2521.549, 2528.166, 2531.474, 2534.783, 2538.091]}},
            "y": {"field": "c", "type": "quantitative", "scale": {"domain": [0.08512, 0.16135], "nice": false, "zero": false}, "axis": {"orient": "left", "title": null, "labels": false, "tickSize": -14, "values": [0.09, 0.095, 0.105, 0.11, 0.115, 0.125, 0.13, 0.135, 0.145, 0.15, 0.155]}}
          }
        },
        {
          "data": {"name": "flux"}, "transform": [{"filter": "datum.p == 3"}],
          "mark": {"type": "errorbar", "color": "#fff200", "thickness": 2},
          "encoding": {
            "x": {"field": "b", "type": "quantitative", "scale": {"domain": [2425.6, 2541.4], "nice": false, "zero": false}, "axis": {"orient": "top", "title": null, "labels": false, "tickSize": -7, "values": [2442.143, 2458.686, 2475.229, 2491.771, 2508.314, 2524.857]}},
            "y": {"field": "o", "type": "quantitative", "scale": {"domain": [0.08512, 0.16135], "nice": false, "zero": false}, "axis": {"orient": "right", "title": null, "labels": false, "tickSize": -28, "values": [0.1, 0.12, 0.14, 0.16]}},
            "yError": {"field": "oe"}
          }
        },
        {
          "data": {"name": "flux"}, "transform": [{"filter": "datum.p == 3"}],
          "mark": {"type": "circle", "color": "#fff200", "size": 36, "opacity": 1},
          "encoding": {
            "x": {"field": "b", "type": "quantitative", "scale": {"domain": [2425.6, 2541.4], "nice": false, "zero": false}, "axis": {"orient": "top", "title": null, "labels": false, "tickSize": -4.5, "values": [2428.909, 2432.217, 2435.526, 2438.834, 2445.451, 2448.76, 2452.069, 2455.377, 2461.994, 2465.303, 2468.611, 2471.92, 2478.537, 2481.846, 2485.154, 2488.463, 2495.08, 2498.389, 2501.697, 2505.006, 2511.623, 2514.931, 2518.24, 2521.549, 2528.166, 2531.474, 2534.783, 2538.091]}},
            "y": {"field": "o", "type": "quantitative", "scale": {"domain": [0.08512, 0.16135], "nice": false, "zero": false}, "axis": {"orient": "right", "title": null, "labels": false, "tickSize": -14, "values": [0.09, 0.095, 0.105, 0.11, 0.115, 0.125, 0.13, 0.135, 0.145, 0.15, 0.155]}}
          }
        },
        {
          "data": {"values": [{}]},
          "mark": {"type": "text", "align": "left", "baseline": "middle", "fontSize": 16, "color": "#ececec"},
          "encoding": {
            "x": {"datum": 2433.77, "type": "quantitative", "scale": {"domain": [2425.6, 2541.4], "nice": false, "zero": false}, "axis": null},
            "y": {"datum": 0.14889, "type": "quantitative", "scale": {"domain": [0.08512, 0.16135], "nice": false, "zero": false}, "axis": {"orient": "left", "title": null, "ticks": false, "tickSize": 0, "labelPadding": 5, "format": "~g", "values": [0.1, 0.12, 0.14]}},
            "text": {"value": "[10.10 - 11.00] GV"}
          }
        },
        {
          "data": {"values": [{}]},
          "mark": {"type": "text", "align": "center", "baseline": "middle", "fontSize": 16, "color": "#00dd00"},
          "encoding": {
            "x": {"datum": 2475.95, "type": "quantitative", "axis": null},
            "y": {"datum": 0.1531, "type": "quantitative", "axis": null},
            "text": {"value": "C"}
          }
        },
        {
          "data": {"values": [{}]},
          "mark": {"type": "text", "align": "left", "baseline": "middle", "fontSize": 16, "color": "#fff200"},
          "encoding": {
            "x": {"datum": 2475.1, "type": "quantitative", "axis": null},
            "y": {"datum": 0.1439, "type": "quantitative", "axis": null},
            "text": {"value": "O x\u00a0 1.04"}
          }
        }
      ]
    },
    {
      "width": 775, "height": 159,
      "resolve": {"axis": {"x": "independent", "y": "independent"}},
      "layer": [
        {
          "data": {"name": "flux"}, "transform": [{"filter": "datum.p == 4"}],
          "mark": {"type": "errorbar", "color": "#00dd00", "thickness": 2},
          "encoding": {
            "x": {"field": "b", "type": "quantitative", "scale": {"domain": [2425.6, 2541.4], "nice": false, "zero": false}, "axis": {"orient": "bottom", "title": null, "labels": false, "tickSize": -7, "values": [2442.143, 2458.686, 2475.229, 2491.771, 2508.314, 2524.857]}},
            "y": {"field": "c", "type": "quantitative", "scale": {"domain": [0.01751, 0.033801], "nice": false, "zero": false}, "axis": {"orient": "left", "title": null, "labels": false, "tickSize": -28, "values": [0.02, 0.025, 0.03]}},
            "yError": {"field": "ce"}
          }
        },
        {
          "data": {"name": "flux"}, "transform": [{"filter": "datum.p == 4"}],
          "mark": {"type": "circle", "color": "#00dd00", "size": 36, "opacity": 1},
          "encoding": {
            "x": {"field": "b", "type": "quantitative", "scale": {"domain": [2425.6, 2541.4], "nice": false, "zero": false}, "axis": {"orient": "bottom", "title": null, "labels": false, "tickSize": -4.5, "values": [2428.909, 2432.217, 2435.526, 2438.834, 2445.451, 2448.76, 2452.069, 2455.377, 2461.994, 2465.303, 2468.611, 2471.92, 2478.537, 2481.846, 2485.154, 2488.463, 2495.08, 2498.389, 2501.697, 2505.006, 2511.623, 2514.931, 2518.24, 2521.549, 2528.166, 2531.474, 2534.783, 2538.091]}},
            "y": {"field": "c", "type": "quantitative", "scale": {"domain": [0.01751, 0.033801], "nice": false, "zero": false}, "axis": {"orient": "left", "title": null, "labels": false, "tickSize": -14, "values": [0.018, 0.019, 0.021, 0.022, 0.023, 0.024, 0.026, 0.027, 0.028, 0.029, 0.031, 0.032, 0.033]}}
          }
        },
        {
          "data": {"name": "flux"}, "transform": [{"filter": "datum.p == 4"}],
          "mark": {"type": "errorbar", "color": "#fff200", "thickness": 2},
          "encoding": {
            "x": {"field": "b", "type": "quantitative", "scale": {"domain": [2425.6, 2541.4], "nice": false, "zero": false}, "axis": {"orient": "top", "title": null, "labels": false, "tickSize": -7, "values": [2442.143, 2458.686, 2475.229, 2491.771, 2508.314, 2524.857]}},
            "y": {"field": "o", "type": "quantitative", "scale": {"domain": [0.01751, 0.033801], "nice": false, "zero": false}, "axis": {"orient": "right", "title": null, "labels": false, "tickSize": -28, "values": [0.02, 0.025, 0.03]}},
            "yError": {"field": "oe"}
          }
        },
        {
          "data": {"name": "flux"}, "transform": [{"filter": "datum.p == 4"}],
          "mark": {"type": "circle", "color": "#fff200", "size": 36, "opacity": 1},
          "encoding": {
            "x": {"field": "b", "type": "quantitative", "scale": {"domain": [2425.6, 2541.4], "nice": false, "zero": false}, "axis": {"orient": "top", "title": null, "labels": false, "tickSize": -4.5, "values": [2428.909, 2432.217, 2435.526, 2438.834, 2445.451, 2448.76, 2452.069, 2455.377, 2461.994, 2465.303, 2468.611, 2471.92, 2478.537, 2481.846, 2485.154, 2488.463, 2495.08, 2498.389, 2501.697, 2505.006, 2511.623, 2514.931, 2518.24, 2521.549, 2528.166, 2531.474, 2534.783, 2538.091]}},
            "y": {"field": "o", "type": "quantitative", "scale": {"domain": [0.01751, 0.033801], "nice": false, "zero": false}, "axis": {"orient": "right", "title": null, "labels": false, "tickSize": -14, "values": [0.018, 0.019, 0.021, 0.022, 0.023, 0.024, 0.026, 0.027, 0.028, 0.029, 0.031, 0.032, 0.033]}}
          }
        },
        {
          "data": {"values": [{}]},
          "mark": {"type": "text", "align": "left", "baseline": "middle", "fontSize": 15, "color": "#ececec"},
          "encoding": {
            "x": {"datum": 2434.27, "type": "quantitative", "scale": {"domain": [2425.6, 2541.4], "nice": false, "zero": false}, "axis": {"orient": "bottom", "title": null, "ticks": false, "tickSize": 0, "labelPadding": -2, "labelFontSize": 20, "labelLineHeight": 25, "labelFlush": false, "labelOverlap": false, "values": [2425.6, 2442.143, 2458.686, 2475.229, 2491.771, 2508.314, 2524.857, 2541.4], "labelExpr": "[['May','2011'],['Aug','2012'],['Oct','2013'],['Jan','2015'],['Apr','2016'],['Jun','2017'],['Sep','2018'],['Dec','2019']][round((datum.value - 2425.6) / 16.543)]"}},
            "y": {"datum": 0.030277, "type": "quantitative", "scale": {"domain": [0.01751, 0.033801], "nice": false, "zero": false}, "axis": {"orient": "left", "title": null, "ticks": false, "tickSize": 0, "labelPadding": 5, "format": "~g", "values": [0.02, 0.025, 0.03]}},
            "text": {"value": "[19.50 - 21.10] GV"}
          }
        },
        {
          "data": {"values": [{}]},
          "mark": {"type": "text", "align": "center", "baseline": "middle", "fontSize": 15, "color": "#00dd00"},
          "encoding": {
            "x": {"datum": 2475.95, "type": "quantitative", "axis": null},
            "y": {"datum": 0.031424, "type": "quantitative", "axis": null},
            "text": {"value": "C"}
          }
        },
        {
          "data": {"values": [{}]},
          "mark": {"type": "text", "align": "left", "baseline": "middle", "fontSize": 15, "color": "#fff200"},
          "encoding": {
            "x": {"datum": 2475.1, "type": "quantitative", "axis": null},
            "y": {"datum": 0.028914, "type": "quantitative", "axis": null},
            "text": {"value": "O x\u00a0 1.00"}
          }
        }
      ]
    }
  ]
}
